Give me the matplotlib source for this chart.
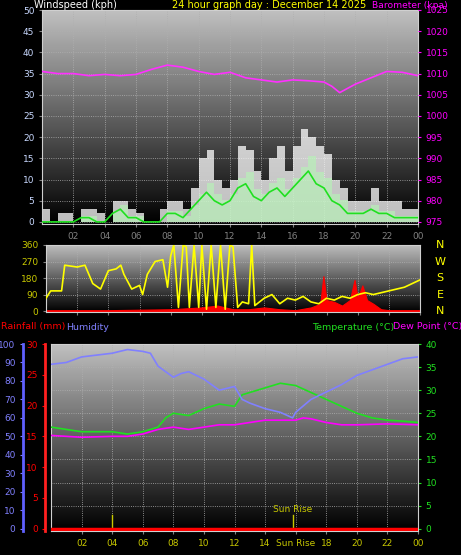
import numpy as np
import matplotlib
matplotlib.use("Agg")
import matplotlib.pyplot as plt

# --- wind (half-hourly) ---
wind_t = np.arange(0, 24.5, 0.5)
gust = [3, 0, 2, 2, 0, 3, 3, 2, 0, 5, 5, 3, 2, 0, 0, 3, 5, 5, 3, 8, 15, 17, 10, 8, 10,
        18, 17, 12, 10, 15, 18, 12, 18, 22, 20, 18, 16, 10, 8, 5, 5, 5, 8, 5, 5, 5, 3, 3, 3]
avg = [0, 0, 0, 0, 0, 1, 1, 0, 0, 2, 3, 1, 1, 0, 0, 0, 2, 2, 1, 3, 5, 7, 5, 4, 5,
       8, 9, 6, 5, 7, 8, 6, 8, 10, 12, 9, 8, 5, 4, 2, 2, 2, 3, 2, 2, 1, 1, 1, 1]

baro_t = [0, 1, 2, 3, 4, 5, 6, 7, 8, 9, 10, 11, 12, 13, 14, 15, 16, 17, 18, 18.5, 19, 20, 21, 22, 23, 24]
baro = [1010.5, 1010, 1010, 1009.5, 1009.8, 1009.5, 1009.8, 1011, 1012, 1011.5, 1010.5, 1009.8,
        1010.3, 1009, 1008.5, 1008, 1008.5, 1008.3, 1008, 1007, 1005.5, 1007.5, 1009, 1010.5, 1010.3, 1009.5]

# --- wind direction ---
dir_t = [0, 0.3, 1, 1.2, 2, 2.5, 3, 3.5, 4, 4.5, 4.8, 5, 5.5, 6, 6.2, 6.5, 7, 7.5, 7.8, 8, 8.2, 8.5,
         8.8, 9, 9.2, 9.5, 9.8, 10, 10.3, 10.6, 10.9, 11.2, 11.5, 11.8, 12, 12.3, 12.6, 13, 13.2, 13.4,
         14, 14.5, 15, 15.5, 16, 16.5, 17, 17.5, 18, 18.5, 19, 19.5, 20, 20.5, 21, 22, 23, 24]
direction = [70, 110, 110, 250, 240, 250, 150, 120, 220, 230, 250, 200, 120, 140, 90, 200, 270, 280,
             130, 300, 360, 20, 360, 350, 20, 360, 20, 360, 10, 360, 20, 360, 10, 360, 350, 20, 50, 40,
             360, 30, 70, 90, 40, 70, 60, 80, 50, 40, 70, 60, 80, 70, 90, 100, 90, 110, 130, 170]
red_t = [0, 4, 8, 10, 11, 12, 13, 14, 15, 16, 17, 17.6, 17.8, 18, 18.5, 19, 19.5, 19.8, 20, 20.3, 20.6, 21, 21.5, 22, 24]
red_dir = [5, 5, 10, 20, 30, 10, 10, 20, 10, 5, 20, 40, 190, 60, 50, 30, 60, 170, 70, 140, 60, 40, 10, 5, 5]

# --- temperature / humidity ---
temp_t = [0, 1, 2, 3, 4, 5, 6, 7, 7.5, 8, 9, 10, 11, 12, 12.5, 13, 14, 15, 16, 17, 18, 19, 20, 21, 22, 23, 24]
temp = [22, 21.5, 21, 21, 21, 20.5, 21, 22, 24, 25, 24.5, 26, 27, 26.5, 29, 29.5, 30.5, 31.5, 31,
        29.5, 28, 26.5, 25, 24, 23.5, 23.3, 23]
dew_t = [0, 2, 4, 5, 6, 7, 8, 9, 10, 11, 12, 13, 14, 15, 16, 16.5, 17, 18, 19, 20, 22, 24]
dew = [20.2, 19.8, 20, 20, 20.5, 21.5, 22, 21.5, 22, 22.5, 22.5, 23, 23.5, 23.5, 23.5, 24, 23.8,
       23, 22.5, 22.5, 22.7, 22.5]
hum_t = [0, 1, 2, 3, 4, 5, 6, 6.5, 7, 8, 8.5, 9, 10, 11, 12, 12.5, 13, 14, 15, 15.8, 16, 17, 18, 19, 20, 21, 22, 23, 24]
hum = [89, 90, 93, 94, 95, 97, 96, 95, 88, 82, 84, 85, 81, 75, 77, 70, 68, 65, 63, 60, 63, 70, 74,
       78, 83, 86, 89, 92, 93]

hours = list(range(2, 25, 2))
hour_labels = [f"{h % 24:02d}" for h in hours]
TICKC = "#c8c800"

W, H = 461, 555
fig = plt.figure(figsize=(W / 100, H / 100), dpi=100, facecolor="black")


def panel(l, t, r, b):
    ax = fig.add_axes([l / W, 1 - b / H, (r - l) / W, (b - t) / H])
    grad = np.linspace(0.75, 0.0, 100).reshape(-1, 1)
    ax.imshow(grad, cmap="gray", vmin=0, vmax=1, aspect="auto",
              extent=[0, 1, 0, 1], transform=ax.transAxes, zorder=0)
    ax.set_facecolor("black")
    for s in ax.spines.values():
        s.set_color("#d0d0d0")
    ax.set_xlim(0, 24)
    ax.grid(True, color="#b0b0b0", linestyle=":", linewidth=0.6)
    ax.set_xticks(hours)
    ax.set_xticklabels(hour_labels, color=TICKC, fontsize=6.5)
    ax.tick_params(colors="#808080", length=2, labelsize=6.5)
    return ax


# top panel
ax1 = panel(42, 10, 418, 224)
ax1.bar(wind_t, gust, width=0.5, align="edge", color="white", alpha=0.75, zorder=2)
ax1.bar(wind_t, [a * 1.3 for a in avg], width=0.5, align="edge", color="#b8f0b8", alpha=0.7, zorder=3)
ax1.plot(wind_t, avg, color="#20e020", lw=1.2, zorder=4)
ax1.set_ylim(-0.5, 50)
ax1.set_yticks(range(0, 51, 5))
ax1b = ax1.twinx()
ax1b.set_ylim(974.5, 1025)
ax1b.set_yticks(range(975, 1026, 5))
ax1b.tick_params(colors="#ff00ff", labelsize=6.5, length=2)
ax1b.plot(baro_t, baro, color="#ff30ff", lw=1.2)
for s in ax1b.spines.values():
    s.set_visible(False)
ax1.yaxis.tick_left()
ax1.tick_params(axis="y", labelcolor="#c8d8ff")
fig.text(34 / W, 1 - 5 / H, "Windspeed (kph)", color="white", fontsize=7, va="center")
fig.text(172 / W, 1 - 5 / H, "24 hour graph day : December 14 2025", color="yellow", fontsize=7, va="center")
fig.text(372 / W, 1 - 5 / H, "Barometer (kpa)", color="#ff00ff", fontsize=6.6, va="center")

# middle panel
ax2 = panel(46, 245, 420, 312)
ax2.plot(dir_t, direction, color="yellow", lw=1.2, zorder=3)
ax2.fill_between(red_t, 0, red_dir, color="red", lw=0.8, zorder=2)
ax2.set_ylim(-5, 360)
ax2.set_yticks(range(0, 361, 90))
ax2.tick_params(axis="y", labelcolor=TICKC)
ax2.tick_params(axis="x", labelbottom=False)
for i, c in enumerate(["N", "W", "S", "E", "N"]):
    fig.text(440 / W, 1 - (245 + i * 16.5) / H, c, color="yellow", fontsize=8, ha="center", va="center")
fig.text(1 / W, 1 - 327 / H, "Rainfall (mm)", color="red", fontsize=6.8, va="center")
fig.text(66 / W, 1 - 327 / H, "Humidity", color="#8080ff", fontsize=6.8, va="center")
fig.text(312 / W, 1 - 327 / H, "Temperature (°C)", color="#20e020", fontsize=6.8, va="center")
fig.text(393 / W, 1 - 327 / H, "Dew Point (°C)", color="#ff00ff", fontsize=6.8, va="center")

# bottom panel
ax3 = panel(51, 344, 418, 531)
ax3.set_xticklabels([("Sun Rise" if h == 16 else l) for h, l in zip(hours, hour_labels)],
                    color=TICKC, fontsize=6.5)
ax3.set_ylim(-0.5, 40)
ax3.set_yticks(range(0, 41, 5))
ax3.plot(temp_t, temp, color="#20e020", lw=1.2, zorder=3)
ax3.plot(dew_t, dew, color="#ff00ff", lw=1.2, zorder=3)
ax3.axhline(0, color="red", lw=2.5, zorder=4)
ax3.plot([4, 4], [0, 3], color=TICKC, lw=1)
ax3.plot([15.8, 15.8], [0, 3], color=TICKC, lw=1)
ax3.text(15.8, 3.6, "Sun Rise", color=TICKC, fontsize=6.5, ha="center")
ax3h = ax3.twinx()
ax3h.set_ylim(-1.25, 100)
ax3h.set_yticks(range(0, 101, 10))
ax3h.plot(hum_t, hum, color="#8080ff", lw=1.2)
ax3r = ax3.twinx()
ax3r.set_ylim(-0.375, 30)
ax3r.set_yticks(range(0, 31, 5))
for a, off, col, tc in ((ax3h, 20, "#6060ff", "#8080ff"), (ax3r, 4, "#ff2020", "red")):
    a.yaxis.tick_left()
    a.spines["left"].set_position(("outward", off))
    a.spines["left"].set_color(col)
    a.spines["left"].set_linewidth(2)
    a.tick_params(colors=tc, labelsize=6.5, length=2)
    for k in ("top", "right", "bottom"):
        a.spines[k].set_visible(False)
ax3.yaxis.tick_right()
ax3.tick_params(axis="y", colors="#20e020", labelsize=6.5, length=2)

fig.savefig("out.png", dpi=100, facecolor="black")
